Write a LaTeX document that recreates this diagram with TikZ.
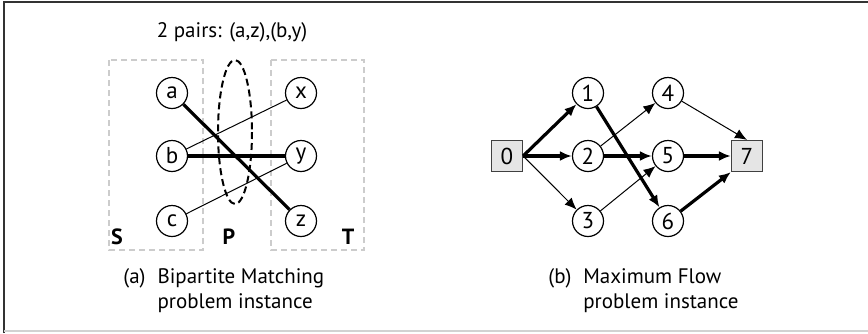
\documentclass[tikz,border=0pt]{standalone}
\usepackage{fontspec}
\setmainfont{PT Sans}
\usetikzlibrary{arrows.meta}

\begin{document}
\begin{tikzpicture}[x=0.5pt, y=-0.5pt, >={Latex[length=6pt,width=5pt]},
  font=\fontsize{10.5}{12.5}\selectfont,
  vertex/.style={draw, circle, minimum size=15.5pt, inner sep=0pt, line width=0.6pt,
    font=\fontsize{11.5}{12}\selectfont},
  term/.style={draw=black!75, fill=gray!20, minimum size=15.5pt, inner sep=0pt, line width=0.6pt,
    font=\fontsize{11.5}{12}\selectfont},
  part/.style={draw=gray!40, dash pattern=on 3pt off 2pt, line width=0.6pt},
  plain/.style={line width=0.5pt},
  flow/.style={line width=1.6pt}]
  \useasboundingbox (0,0) rectangle (868,333);
  \draw[line width=1pt, black!80] (4,333) -- (4,2) -- (868,2);
  \draw[line width=1pt, gray!35] (4,331) -- (868,331);

  % (a) bipartite matching
  \node (title) at (232,32) {2 pairs: (a,z),(b,y)};
  \draw[part] (109,60) rectangle (203,250);
  \draw[part] (271,60) rectangle (364,250);
  \node[font=\fontsize{11}{12}\bfseries] (S) at (117,237) {S};
  \node[font=\fontsize{11}{12}\bfseries] (P) at (229,237) {P};
  \node[font=\fontsize{11}{12}\bfseries] (T) at (348,237) {T};

  \node[vertex] (a) at (172,93) {a};
  \node[vertex] (b) at (172,156) {b};
  \node[vertex] (c) at (172,221) {c};
  \node[vertex] (x) at (301,93) {x};
  \node[vertex] (y) at (301,156) {y};
  \node[vertex] (z) at (301,221) {z};

  \draw[plain] (b) -- (x);
  \draw[plain] (c) -- (y);
  \draw[flow] (a) -- (z);
  \draw[flow] (b) -- (y);
  \draw[line width=1pt, dash pattern=on 3.5pt off 2pt] (235,132) ellipse [x radius=17, y radius=72];

  \node[anchor=west, inner sep=0pt] (capA) at (123,291)
    {\begin{tabular}{@{}l@{\hspace{6pt}}l@{}}(a) & Bipartite Matching\\ & problem instance\end{tabular}};

  % (b) maximum flow
  \node[term] (n0) at (507,156) {0};
  \node[vertex] (n1) at (588,93) {1};
  \node[vertex] (n2) at (588,156) {2};
  \node[vertex] (n3) at (588,221) {3};
  \node[vertex] (n4) at (668,93) {4};
  \node[vertex] (n5) at (668,156) {5};
  \node[vertex] (n6) at (668,221) {6};
  \node[term] (n7) at (747,156) {7};

  \draw[flow, ->] (n0.east) -- (n1);
  \draw[flow, ->] (n0.east) -- (n2);
  \draw[plain, ->] (n0.east) -- (n3);
  \draw[plain, ->] (n2) -- (n4);
  \draw[plain, ->] (n3) -- (n5);
  \draw[flow, ->] (n2) -- (n5);
  \draw[flow, ->] (n1) -- (n6);
  \draw[plain, ->] (n4) -- (n7.north);
  \draw[flow, ->] (n5) -- (n7);
  \draw[flow, ->] (n6) -- (n7.south west);

  \node[anchor=west, inner sep=0pt] (capB) at (548,291)
    {\begin{tabular}{@{}l@{\hspace{6pt}}l@{}}(b) & Maximum Flow\\ & problem instance\end{tabular}};
\end{tikzpicture}
\end{document}
